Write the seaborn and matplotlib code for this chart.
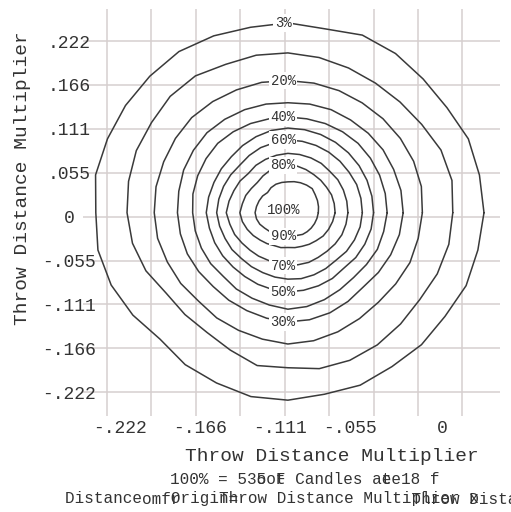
import numpy as np
import pandas as pd
import matplotlib
matplotlib.use("Agg")
import matplotlib.pyplot as plt
import seaborn as sns

# isoline levels; radii in thousandths of the throw distance multiplier,
# every 11.25 degrees, counter-clockwise starting at the right
levels = ["3%", "10%", "20%", "30%", "40%", "50%", "60%", "70%", "80%", "90%"]
angles_deg = np.arange(0, 360, 11.25)
center_x, center_y = 0.004, 0.005

r_3 = [245, 244, 244, 239, 239, 242, 243, 237, 240, 239, 242, 245, 244, 244, 244, 245,
       240, 242, 239, 233, 226, 231, 233, 237, 237, 234, 236, 234, 236, 236, 241, 242]
r_10 = [206, 209, 207, 201, 198, 197, 198, 200, 202, 203, 203, 208, 208, 205, 205, 203,
        201, 198, 192, 183, 182, 182, 188, 197, 196, 201, 202, 201, 199, 198, 202, 205]
r_20 = [168, 170, 170, 169, 168, 167, 167, 167, 167, 168, 168, 169, 170, 169, 168, 168,
        167, 166, 163, 161, 158, 160, 161, 163, 166, 165, 163, 161, 160, 162, 165, 166]
r_30 = [144, 144, 143, 143, 142, 141, 141, 140, 139, 140, 141, 142, 143, 142, 141, 139,
        138, 137, 136, 134, 132, 133, 134, 136, 138, 138, 137, 135, 133, 136, 139, 142]
r_40 = [124, 124, 124, 124, 124, 123, 122, 121, 121, 121, 122, 123, 124, 123, 122, 121,
        119, 118, 117, 116, 114, 116, 117, 119, 122, 121, 119, 117, 116, 118, 121, 122]
r_50 = [107, 107, 107, 107, 107, 107, 107, 107, 107, 106, 104, 102, 100, 100, 100, 101,
        102, 100, 99, 98, 97, 97, 98, 99, 100, 100, 100, 100, 99, 102, 104, 106]
r_60 = [93, 93, 93, 92, 92, 92, 92, 92, 92, 90, 89, 87, 85, 86, 87, 88,
        89, 87, 85, 84, 82, 82, 82, 83, 84, 85, 85, 85, 85, 88, 90, 92]
r_70 = [75, 75, 75, 75, 74, 75, 75, 75, 75, 74, 73, 72, 70, 72, 73, 75,
        77, 74, 72, 69, 67, 66, 65, 66, 67, 67, 68, 68, 69, 71, 73, 74]
r_80 = [59, 59, 59, 58, 58, 58, 59, 60, 60, 59, 58, 56, 54, 55, 57, 58,
        60, 58, 55, 52, 49, 47, 45, 45, 44, 45, 46, 48, 50, 53, 55, 57]
r_90 = [38, 39, 40, 41, 43, 42, 41, 40, 39, 39, 39, 38, 36, 38, 39, 40,
        41, 40, 38, 35, 33, 31, 30, 30, 30, 31, 31, 33, 34, 35, 36, 37]
radii = dict(zip(levels, [r_3, r_10, r_20, r_30, r_40, r_50, r_60, r_70, r_80, r_90]))

top_labels = ["3%", "20%", "40%", "60%", "80%"]
bottom_labels = ["90%", "70%", "50%", "30%"]
peak_label = "100%"

grid_pos = [-0.222, -0.1665, -0.111, -0.0555, 0, 0.0555, 0.111, 0.1665, 0.222]
ytick_labels = ["-.222", "-.166", "-.111", "-.055", "0", ".055", ".111", ".166", ".222"]
xtick_pos = [-0.206, -0.106, -0.006, 0.081, 0.197]
xtick_labels = ["-.222", "-.166", "-.111", "-.055", "0"]

axis_title = "Throw Distance Multiplier"
# the footnote words overprint each other in the source, kept as layered strings
note_1 = ["100% = 535 F Candles at 18 f",
          "         oot          ee"]
note_2 = ["Distance   Origin",
          "        omfr",
          "                Throw Distance Multiplier x",
          "                 =",
          "                                    Throw Dista"]

rows = []
for lvl in levels:
    r = radii[lvl] + radii[lvl][:1]
    a = np.deg2rad(list(angles_deg) + [360])
    for i, (rr, aa) in enumerate(zip(r, a)):
        rows.append({"level": lvl, "order": i,
                     "x": center_x + rr / 1000 * np.cos(aa),
                     "y": center_y + rr / 1000 * np.sin(aa)})
df = pd.DataFrame(rows)

sns.set_style("white")
plt.rcParams["font.family"] = ["Liberation Mono", "DejaVu Sans Mono"]
txt = "#333333"

fig = plt.figure(figsize=(5.11, 5.12), dpi=100)
ax = fig.add_axes([83 / 511, 1 - 416 / 512, 417 / 511, 407 / 512])

sns.lineplot(data=df, x="x", y="y", units="level", estimator=None, sort=False,
             color="#3a3a3a", lw=1.1, legend=False, ax=ax)

box = dict(boxstyle="square,pad=0.12", fc="white", ec="none")
idx_top, idx_bottom = 8, 24
for lvl in top_labels:
    ax.text(center_x - 0.006, center_y + radii[lvl][idx_top] / 1000, lvl, ha="center",
            va="center", fontsize=10, color=txt, bbox=box, zorder=5)
for lvl in bottom_labels:
    ax.text(center_x - 0.006, center_y - radii[lvl][idx_bottom] / 1000, lvl, ha="center",
            va="center", fontsize=10, color=txt, bbox=box, zorder=5)
ax.text(center_x - 0.005, center_y + 0.003, peak_label, ha="center", va="center",
        fontsize=10, color=txt, zorder=5)

ax.set_xlim(-0.252, 0.269)
ax.set_ylim(-0.252, 0.2625)
ax.set_xticks(grid_pos, labels=[""] * len(grid_pos))
ax.set_xticks(xtick_pos, labels=xtick_labels, minor=True)
ax.set_yticks(grid_pos, labels=ytick_labels)
ax.tick_params(which="both", length=0)
ax.tick_params(axis="x", which="minor", pad=3, labelsize=13, labelcolor=txt)
ax.tick_params(axis="y", pad=10, labelsize=13, labelcolor=txt)
for lab in ax.get_yticklabels():
    lab.set_ha("center")
ax.grid(True, which="major", color="#d6cfcf", lw=1.1)
ax.set_axisbelow(True)
for s in ax.spines.values():
    s.set_visible(False)
ax.set_xlabel(""); ax.set_ylabel("")

ax.text(0.597, -0.1007, axis_title, transform=ax.transAxes, ha="center", va="center",
        fontsize=14, color=txt)
ax.text(-0.146, 0.585, axis_title, transform=ax.transAxes, ha="center", va="center",
        rotation=90, fontsize=14, color=txt)

for s in note_1:
    fig.text(170 / 511, 1 - 480 / 512, s, ha="left", va="center", fontsize=11.5, color=txt)
for s in note_2:
    fig.text(65 / 511, 1 - 499 / 512, s, ha="left", va="center", fontsize=11.5, color=txt)

fig.savefig("out.png", dpi=100)
